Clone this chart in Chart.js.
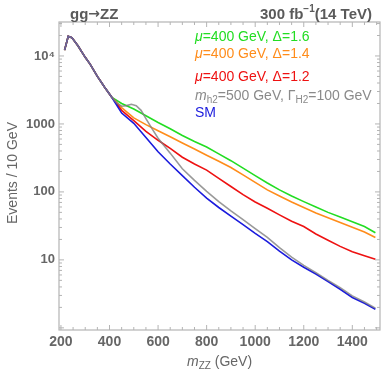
<!DOCTYPE html>
<html>
<head>
<meta charset="utf-8">
<script src="https://cdn.jsdelivr.net/npm/chart.js@4.4.0/dist/chart.umd.min.js"></script>
<style>
  body{margin:0;background:#fff;}
</style>
</head>
<body>
<canvas id="canv" width="388" height="372"></canvas>
<script>
// common part below ~410 GeV (all curves coincide)
var massCommon = [215, 230, 245, 270, 300, 320, 350, 380, 410];
var eventsCommon = [12200, 19500, 18600, 14100, 9550, 7590, 5010, 3470, 2450];

// tail, shared mass points for SM and the mu=400 curves
var massTail = [450, 500, 550, 600, 650, 700, 750, 800, 850, 900, 950, 1000, 1050, 1100, 1150, 1200, 1250, 1300, 1350, 1400, 1450, 1495];
var smTail      = [1445, 1023, 631, 389, 257, 174, 117, 81, 59, 44, 33, 24.5, 18.6, 13.5, 10, 7.8, 6.2, 4.8, 3.7, 2.8, 2.3, 1.88];
var delta16Tail = [1995, 1660, 1320, 1050, 851, 676, 550, 457, 363, 288, 224, 174, 135, 107, 87, 72, 60, 50, 42.7, 36.3, 30.9, 25.1];
var delta14Tail = [1740, 1230, 977, 794, 646, 525, 427, 347, 282, 229, 178, 138, 107, 87, 71, 59, 49, 41.7, 35.5, 30.2, 25.7, 21.4];
var delta12Tail = [1585, 1122, 776, 575, 437, 324, 257, 209, 158, 120, 91, 71, 57.5, 46, 37, 31, 24, 19.5, 15.8, 13.2, 11.5, 10.2];

// heavy scalar curve (bump near 500 GeV)
var massH2 = [430, 450, 470, 490, 510, 530, 550, 575, 600, 650, 700, 750, 800, 850, 900, 950, 1000, 1050, 1100, 1150, 1200, 1250, 1300, 1350, 1400, 1450, 1495];
var h2Tail = [2040, 1820, 1860, 1950, 1860, 1585, 1200, 851, 617, 372, 219, 148, 102, 72, 52.5, 39, 28.8, 21.4, 15.1, 11, 8.3, 6.5, 5.0, 3.9, 2.95, 2.4, 1.95];

var xTicks = [200, 400, 600, 800, 1000, 1200, 1400];
var yTicks = [10, 100, 1000, 10000];

function points(xs, ys){
  var pts = [];
  for (var i = 0; i < xs.length; i++) pts.push({x: xs[i], y: ys[i]});
  return pts;
}
function curve(xs, ys){
  return points(massCommon, eventsCommon).concat(points(xs, ys));
}

var FONT = '"Liberation Sans", Arial, sans-serif';

// frame, ticks and all the annotation text
var decor = {
  id: 'decor',
  afterDraw: function(chart){
    var ctx = chart.ctx, a = chart.chartArea;
    var sx = chart.scales.x, sy = chart.scales.y;
    ctx.save();
    ctx.strokeStyle = '#b4b4b4';
    ctx.lineWidth = 1.2;
    ctx.strokeRect(a.left, a.top, a.right - a.left, a.bottom - a.top);
    ctx.lineWidth = 1;
    // x ticks
    for (var v = 200; v <= 1500; v += 50){
      var px = sx.getPixelForValue(v);
      var len = (v % 200 == 0) ? 5 : 3;
      ctx.beginPath();
      ctx.moveTo(px, a.bottom); ctx.lineTo(px, a.bottom - len);
      ctx.moveTo(px, a.top); ctx.lineTo(px, a.top + len);
      ctx.stroke();
    }
    // y ticks
    for (var k = 0; k <= 4; k++){
      for (var m = 1; m <= 9; m++){
        var val = m * Math.pow(10, k);
        if (val < sy.min || val > sy.max) continue;
        var py = sy.getPixelForValue(val);
        var l = (m == 1) ? 5 : 3;
        ctx.beginPath();
        ctx.moveTo(a.left, py); ctx.lineTo(a.left + l, py);
        ctx.moveTo(a.right, py); ctx.lineTo(a.right - l, py);
        ctx.stroke();
      }
    }

    // rich text helper
    function rich(parts, x, y, color){
      ctx.fillStyle = color;
      for (var i = 0; i < parts.length; i++){
        var p = parts[i];
        ctx.font = p[1];
        ctx.fillText(p[0], x, y + (p[2] || 0));
        x += ctx.measureText(p[0]).width;
      }
    }
    ctx.textBaseline = 'alphabetic';
    ctx.textAlign = 'left';

    // titles
    var B = 'bold 15px ' + FONT;
    rich([['gg', B], ['\u2192', 'bold 14px "DejaVu Sans", sans-serif', -1], ['ZZ', B]], 70, 19, '#5a5a5a');

    var t1 = '300 fb', t2 = '\u22121', t3 = '(14 TeV)';
    ctx.font = B;
    var w1 = ctx.measureText(t1).width, w3 = ctx.measureText(t3).width;
    ctx.font = 'bold 10px ' + FONT;
    var w2 = ctx.measureText(t2).width;
    rich([[t1, B], [t2, 'bold 10px ' + FONT, -7], [t3, B]], 372 - (w1 + w2 + w3), 19, '#5a5a5a');

    var N = '14px ' + FONT, I = 'italic 14px ' + FONT, S = '10px ' + FONT;
    rich([['\u03bc', I], ['=400 GeV, \u0394=1.6', N]], 195, 41, '#22dd22');
    rich([['\u03bc', I], ['=400 GeV, \u0394=1.4', N]], 195, 58, '#ff8c1a');
    rich([['\u03bc', I], ['=400 GeV, \u0394=1.2', N]], 195, 81, '#ee1111');
    rich([['m', I], ['h2', S, 3], ['=500 GeV, \u0393', N], ['H2', S, 3], ['=100 GeV', N]], 195, 100, '#8a8a8a');
    rich([['SM', N]], 195, 117, '#1a1add');

    // axis titles
    rich([['m', I], ['ZZ', S, 3], [' (GeV)', N]], 187, 366, '#666');
    ctx.save();
    ctx.translate(17, 173);
    ctx.rotate(-Math.PI / 2);
    ctx.textAlign = 'center';
    ctx.fillStyle = '#666';
    ctx.font = '14px ' + FONT;
    ctx.fillText('Events / 10 GeV', 0, 0);
    ctx.restore();
    ctx.restore();
  }
};

var lineStyle = {fill: false, pointRadius: 0, borderWidth: 1.6, tension: 0};

new Chart(document.getElementById('canv'), {
  type: 'line',
  data: {
    datasets: [
      Object.assign({label: 'H2', data: curve(massH2, h2Tail), borderColor: 'rgba(128,128,128,0.8)', order: 0}, lineStyle),
      Object.assign({label: 'SM', data: curve(massTail, smTail), borderColor: '#1a1add', order: 1}, lineStyle),
      Object.assign({label: 'd12', data: curve(massTail, delta12Tail), borderColor: '#ee1111', order: 2}, lineStyle),
      Object.assign({label: 'd14', data: curve(massTail, delta14Tail), borderColor: '#ff8c1a', order: 3}, lineStyle),
      Object.assign({label: 'd16', data: curve(massTail, delta16Tail), borderColor: '#22dd22', order: 4}, lineStyle)
    ]
  },
  options: {
    responsive: false,
    animation: false,
    layout: {padding: {left: 0, right: 8, top: 22, bottom: 0}},
    plugins: {legend: {display: false}, tooltip: {enabled: false}},
    scales: {
      x: {
        type: 'linear', min: 192, max: 1514,
        grid: {display: false, drawTicks: false},
        border: {display: false},
        afterBuildTicks: function(s){ s.ticks = xTicks.map(function(v){ return {value: v}; }); },
        afterFit: function(s){ s.height = 42; },
        ticks: {color: '#666', font: {family: FONT, size: 14, weight: 'bold'}, padding: 4, maxRotation: 0,
                callback: function(v){ return String(v); }}
      },
      y: {
        type: 'logarithmic', min: 0.93, max: 31600,
        grid: {display: false, drawTicks: false},
        border: {display: false},
        afterBuildTicks: function(s){ s.ticks = yTicks.map(function(v){ return {value: v}; }); },
        afterFit: function(s){ s.width = 59; },
        ticks: {color: '#666', font: {family: FONT, size: 13, weight: 'bold'}, padding: 4,
                callback: function(v){ return v == 10000 ? '10\u2074' : String(v); }}
      }
    }
  },
  plugins: [decor]
});
</script>
</body>
</html>
